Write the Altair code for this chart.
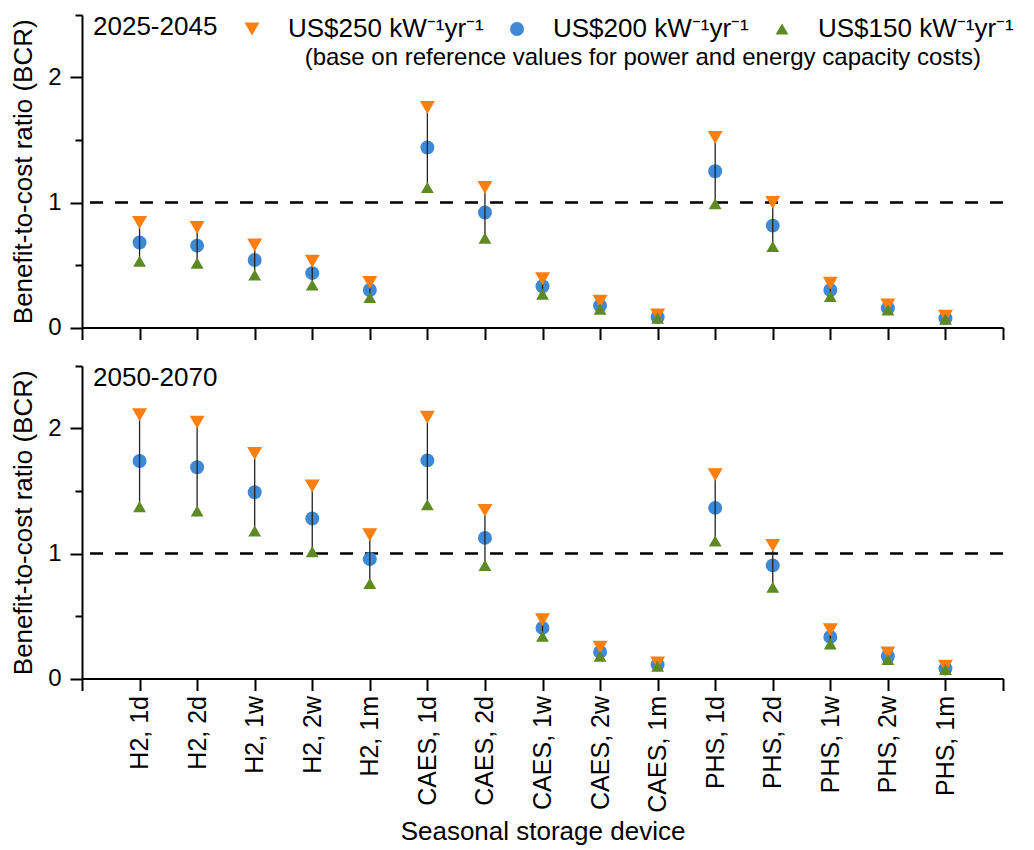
import altair as alt
import pandas as pd

devices = ["H2, 1d", "H2, 2d", "H2, 1w", "H2, 2w", "H2, 1m",
           "CAES, 1d", "CAES, 2d", "CAES, 1w", "CAES, 2w", "CAES, 1m",
           "PHS, 1d", "PHS, 2d", "PHS, 1w", "PHS, 2w", "PHS, 1m"]
series = ["US$250 kW\u207b\u00b9yr\u207b\u00b9", "US$200 kW\u207b\u00b9yr\u207b\u00b9", "US$150 kW\u207b\u00b9yr\u207b\u00b9"]
periods = ["2025-2045", "2050-2070"]

p1_250 = [0.84, 0.80, 0.66, 0.53, 0.36, 1.76, 1.12, 0.39, 0.21, 0.10, 1.52, 1.00, 0.355, 0.18, 0.09]
p1_200 = [0.68, 0.655, 0.54, 0.435, 0.30, 1.44, 0.92, 0.33, 0.175, 0.083, 1.25, 0.815, 0.30, 0.155, 0.075]
p1_150 = [0.53, 0.515, 0.42, 0.34, 0.24, 1.12, 0.715, 0.267, 0.147, 0.075, 0.99, 0.648, 0.248, 0.14, 0.067]

p2_250 = [2.11, 2.05, 1.80, 1.54, 1.15, 2.09, 1.345, 0.47, 0.25, 0.125, 1.63, 1.065, 0.39, 0.205, 0.098]
p2_200 = [1.74, 1.69, 1.49, 1.28, 0.955, 1.745, 1.125, 0.405, 0.213, 0.112, 1.365, 0.905, 0.333, 0.178, 0.08]
p2_150 = [1.375, 1.34, 1.18, 1.015, 0.76, 1.39, 0.905, 0.338, 0.178, 0.098, 1.10, 0.73, 0.277, 0.152, 0.072]

note = "(base on reference values for power and energy capacity costs)"
colors = ["#FF7F0E", "#3F88D4", "#5E8A26"]
shapes = ["triangle-down", "circle", "triangle-up"]

FONT = "Arial"
W, H = 921, 312.5
x_domain = [" "] + devices + ["  "]


def panel(period, v250, v200, v150, bottom):
    long = pd.DataFrame({
        "device": devices * 3,
        "series": [series[0]] * 15 + [series[1]] * 15 + [series[2]] * 15,
        "value": v250 + v200 + v150,
    })
    wide = pd.DataFrame({"device": devices, "hi": v250, "lo": v150})

    x_axis = alt.Axis(
        title="Seasonal storage device" if bottom else None,
        labels=bottom, labelAngle=270, labelAlign="right", labelBaseline="middle",
        labelFontSize=25, labelPadding=5, tickSize=12, tickWidth=2,
        domainWidth=2, domainColor="black", tickColor="black", grid=False,
        titleFontSize=26, titleFontWeight="normal", titlePadding=6,
        labelColor="black", titleColor="black",
    )
    x = alt.X("device:N", scale=alt.Scale(type="point", domain=x_domain, padding=0), axis=x_axis)
    y_axis = alt.Axis(
        title="Benefit-to-cost ratio (BCR)", values=[0, 0.5, 1, 1.5, 2, 2.5],
        labelExpr="datum.value % 1 ? '' : format(datum.value, 'd')",
        tickSize={"condition": {"test": "datum.value % 1 !== 0", "value": 7}, "value": 12},
        tickWidth=2, domainWidth=2, domainColor="black", tickColor="black", grid=False,
        labelFontSize=24, labelPadding=9, titleFontSize=26, titleFontWeight="normal",
        titlePadding=11, labelColor="black", titleColor="black",
    )
    yscale = alt.Scale(domain=[0, 2.5], nice=False, zero=True)

    color = alt.Color("series:N", scale=alt.Scale(domain=series, range=colors),
                      legend=alt.Legend(orient="none", legendX=157, legendY=1, direction="horizontal",
                                        title=None, labelFontSize=26, labelFont=FONT, symbolSize=150,
                                        labelOffset=23, columnPadding=20, symbolStrokeWidth=0,
                                        labelLimit=0, labelColor="black") if not bottom else None)
    shape = alt.Shape("series:N", scale=alt.Scale(domain=series, range=shapes), legend=None)
    size = alt.Size("series:N", scale=alt.Scale(domain=series, range=[225, 165, 225]), legend=None)

    dashed = alt.Chart(pd.DataFrame({"v": [1]})).mark_rule(
        color="black", strokeWidth=2.5, strokeDash=[13, 12]
    ).encode(y=alt.Y("v:Q", scale=yscale, axis=y_axis))

    circles = alt.Chart(long).transform_filter(
        alt.datum.series == series[1]
    ).mark_point(filled=True, opacity=1, strokeWidth=0).encode(
        x=x, y=alt.Y("value:Q", scale=yscale, axis=y_axis), color=color, shape=shape, size=size)

    rules = alt.Chart(wide).mark_rule(color="#222", strokeWidth=1.3).encode(
        x=x, y=alt.Y("hi:Q", scale=yscale, axis=y_axis), y2="lo:Q")

    tris = alt.Chart(long).transform_filter(
        alt.datum.series != series[1]
    ).mark_point(filled=True, opacity=1, strokeWidth=0).encode(
        x=x, y=alt.Y("value:Q", scale=yscale, axis=y_axis), color=color, shape=shape, size=size)

    label = alt.Chart(pd.DataFrame({"t": [period]})).mark_text(
        align="left", baseline="middle", fontSize=26, font=FONT, color="black"
    ).encode(text="t:N", x=alt.value(11), y=alt.value(12))

    layers = [dashed, circles, rules, tris, label]
    if not bottom:
        n = alt.Chart(pd.DataFrame({"t": [note]})).mark_text(
            align="right", baseline="middle", fontSize=24, font=FONT, color="black"
        ).encode(text="t:N", x=alt.value(899), y=alt.value(43))
        layers.append(n)
    return alt.layer(*layers).properties(width=W, height=H)


top = panel(periods[0], p1_250, p1_200, p1_150, False)
bot = panel(periods[1], p2_250, p2_200, p2_150, True)

chart = alt.vconcat(top, bot, spacing=24).resolve_scale(
    color="shared", shape="shared", size="shared"
).configure(
    font=FONT, padding={"left": 10, "top": 14, "right": 5, "bottom": 5}
).configure_view(stroke=None).configure_axisY(labelFont=FONT, titleFont=FONT).configure_axisX(
    labelFont=FONT, titleFont=FONT)

chart.save("out.html", embed_options={"renderer": "svg", "actions": False})
